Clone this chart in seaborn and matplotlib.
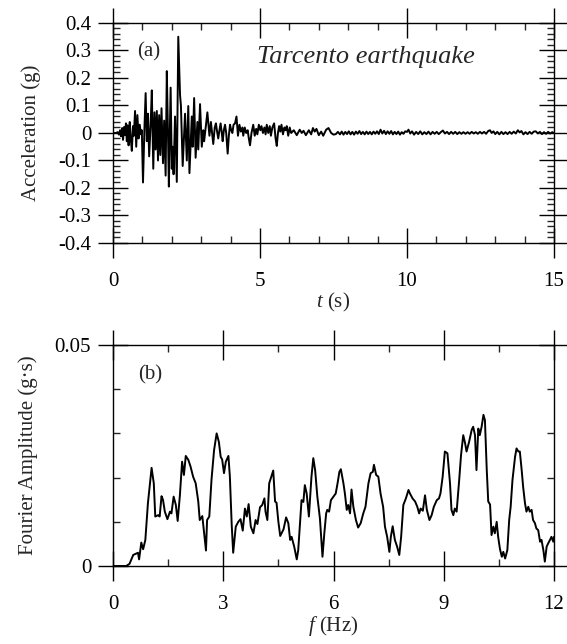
import numpy as np
import pandas as pd
import matplotlib
matplotlib.use("Agg")
import matplotlib.pyplot as plt
from matplotlib.ticker import FixedLocator, MultipleLocator
import seaborn as sns

# ---- ground motion record (time in s, acceleration in g) ----
time_s = [
    0.00, 0.10, 0.16, 0.20, 0.24, 0.27, 0.31, 0.34, 0.38, 0.41, 0.44, 0.47, 0.50, 0.53, 0.57, 0.60,
    0.64, 0.68, 0.71, 0.75, 0.79, 0.83, 0.87, 0.91, 0.95, 0.98,
    1.02, 1.07, 1.11, 1.15, 1.19, 1.23, 1.28, 1.32, 1.37, 1.41, 1.45, 1.49, 1.53, 1.57, 1.61, 1.65,
    1.70, 1.74, 1.79, 1.83, 1.87, 1.90, 1.96, 2.00, 2.03, 2.06, 2.11, 2.17, 2.22, 2.28, 2.31, 2.37,
    2.45, 2.51, 2.56, 2.60, 2.68, 2.71, 2.76, 2.81, 2.87, 2.90, 2.96, 3.02, 3.07, 3.10,
    3.21, 3.28, 3.33, 3.37, 3.41, 3.46, 3.50, 3.54, 3.58, 3.62, 3.66, 3.70, 3.73, 3.77, 3.81, 3.85,
    3.90, 3.94, 3.98, 4.02, 4.06, 4.10, 4.15, 4.20, 4.25, 4.30, 4.35, 4.40, 4.43, 4.48, 4.53, 4.58,
    4.62, 4.66, 4.71, 4.77, 4.82, 4.87, 4.91, 4.96, 5.01, 5.05, 5.10, 5.15, 5.19, 5.23, 5.28, 5.33,
    5.37, 5.42, 5.48, 5.53, 5.57, 5.61, 5.65, 5.69, 5.73, 5.78, 5.83, 5.87, 5.91, 5.96, 6.01, 6.06,
    6.15, 6.25, 6.35, 6.42, 6.48, 6.56, 6.66, 6.74, 6.80, 6.86, 6.92, 7.00, 7.08, 7.15, 7.25, 7.33,
    7.42, 7.50, 7.58,
    7.65, 7.72, 7.78, 7.84, 7.90, 7.96, 8.02, 8.08, 8.14, 8.20, 8.26, 8.32, 8.38, 8.44, 8.50, 8.56,
    8.62, 8.68, 8.74, 8.80, 8.86, 8.92, 8.98, 9.04, 9.10, 9.16, 9.22, 9.28, 9.34, 9.40, 9.46, 9.52,
    9.58, 9.64, 9.70,
    9.76, 9.82, 9.88, 9.94, 10.00, 10.05, 10.11, 10.17, 10.24, 10.31, 10.38, 10.45, 10.52, 10.59,
    10.66, 10.73, 10.80, 10.87, 10.94, 11.01, 11.08, 11.15, 11.22, 11.29, 11.36, 11.43, 11.50, 11.57,
    11.64, 11.71, 11.78, 11.85, 11.92, 11.99, 12.06, 12.13, 12.20, 12.27, 12.34, 12.41, 12.48, 12.55,
    12.62, 12.69, 12.76, 12.82, 12.88, 12.94, 13.00, 13.07, 13.14, 13.21, 13.28, 13.35, 13.42, 13.49,
    13.56, 13.63, 13.70, 13.77, 13.83, 13.89, 13.96, 14.03, 14.10, 14.17, 14.24, 14.31, 14.38, 14.45,
    14.52, 14.59, 14.66, 14.73, 14.80, 14.87, 14.94, 15.00,
]
accel_g = [
    0.0, 0.0, 0.003, -0.006, 0.010, -0.012, 0.018, -0.025, 0.022, -0.008, 0.035, -0.030, 0.028, -0.045, 0.040, -0.015,
    -0.065, 0.025, -0.010, 0.080, -0.050, 0.065, -0.020, 0.030, -0.005, 0.010,
    -0.180, 0.020, 0.145, -0.030, 0.070, -0.085, 0.030, 0.155, -0.130, 0.075, -0.060, 0.080, -0.100, 0.065, -0.080, 0.090,
    -0.110, 0.045, -0.155, 0.225, 0.000, -0.195, 0.165, -0.130, -0.050, -0.150, 0.060, -0.178, 0.350, 0.138, 0.100, -0.120,
    0.070, -0.100, 0.098, -0.146, 0.060, -0.050, 0.127, -0.090, 0.040, -0.060, 0.105, -0.050, 0.010, -0.030,
    0.075, -0.010, 0.040, 0.000, -0.040, 0.020, 0.035, 0.005, -0.020, 0.010, 0.035, 0.000, -0.030, 0.010, 0.030, 0.000,
    -0.075, -0.010, 0.030, 0.010, 0.000, 0.030, 0.035, 0.060, -0.010, 0.030, 0.005, 0.020, -0.010, 0.020, 0.000, 0.010,
    -0.020, -0.045, 0.000, 0.030, -0.010, 0.015, -0.005, 0.030, 0.010, 0.025, 0.000, 0.020, -0.005, 0.030, 0.000, 0.025,
    -0.010, 0.020, 0.035, -0.020, -0.047, 0.000, 0.025, 0.005, 0.030, -0.005, 0.020, 0.010, 0.025, -0.010, 0.020, 0.000,
    0.010, -0.008, 0.012, 0.000, 0.008, -0.008, 0.010, -0.005, 0.018, 0.005, 0.015, -0.008, 0.005, -0.010, 0.012, 0.018,
    0.000, -0.006, -0.004,
    0.004, -0.005, 0.005, -0.006, 0.004, -0.004, 0.006, -0.005, 0.004, -0.006, 0.005, -0.003, 0.007, -0.004, 0.004, -0.005,
    0.005, -0.004, 0.004, -0.005, 0.005, -0.003, 0.006, -0.004, 0.012, -0.002, 0.008, -0.004, 0.006, -0.003, 0.007, -0.005,
    0.004, -0.004, 0.005,
    -0.006, 0.003, -0.003, 0.006, 0.004, 0.012, -0.002, 0.006, -0.006, 0.004, -0.004, 0.006, -0.005, 0.003,
    -0.004, 0.005, -0.005, 0.004, -0.003, 0.004, -0.004, 0.003, 0.009, -0.002, 0.004, -0.004, 0.004, -0.003,
    0.004, -0.004, 0.003, -0.003, 0.003, -0.003, 0.003, -0.003, 0.004, -0.002, 0.003, -0.003, 0.004, -0.002,
    0.004, -0.003, 0.007, 0.010, 0.000, 0.006, -0.004, 0.004, -0.005, 0.004, -0.004, 0.003, -0.004, 0.004,
    -0.003, 0.005, -0.002, 0.010, 0.002, 0.007, -0.005, 0.003, -0.004, 0.004, -0.003, 0.005, 0.006, -0.002,
    0.004, -0.004, 0.003, -0.003, 0.004, -0.002, 0.003, 0.000,
]

# ---- Fourier amplitude spectrum (frequency in Hz, amplitude in g*s) ----
freq_hz = [
    0.00, 0.36, 0.45, 0.55, 0.68, 0.71, 0.77, 0.82, 0.88, 0.95, 1.05, 1.11, 1.15, 1.23, 1.27, 1.32,
    1.36, 1.41, 1.48, 1.55, 1.59, 1.65, 1.71, 1.76, 1.82, 1.88, 1.93, 1.98, 2.05, 2.11, 2.18, 2.25,
    2.32, 2.36, 2.43, 2.48, 2.53, 2.56, 2.62, 2.68, 2.75, 2.82, 2.88, 2.93, 2.97, 3.02, 3.07, 3.14,
    3.18, 3.23, 3.27, 3.34, 3.41, 3.47, 3.53, 3.59, 3.64, 3.69, 3.75, 3.82, 3.88, 3.93, 4.00, 4.06,
    4.12, 4.15, 4.20, 4.25, 4.32, 4.36, 4.41, 4.45, 4.50, 4.55, 4.64, 4.71, 4.77, 4.82, 4.86, 4.93,
    5.00, 5.04, 5.13, 5.18, 5.22, 5.27, 5.33, 5.40, 5.45, 5.50, 5.56, 5.63, 5.70, 5.75, 5.80, 5.83,
    5.88, 5.93, 6.00, 6.06, 6.11, 6.16, 6.20, 6.27, 6.31, 6.36, 6.40, 6.45, 6.49, 6.54, 6.61, 6.67,
    6.74, 6.81, 6.87, 6.95, 7.01, 7.07, 7.10, 7.16, 7.22, 7.28, 7.35, 7.40, 7.46, 7.52, 7.56, 7.61,
    7.67, 7.73, 7.79, 7.84, 7.90, 7.97, 8.04, 8.08, 8.15, 8.22, 8.28, 8.33, 8.37, 8.43, 8.49, 8.54,
    8.61, 8.67, 8.73, 8.81, 8.87, 8.91, 8.97, 9.03, 9.10, 9.17, 9.21, 9.26, 9.30, 9.35, 9.42, 9.47,
    9.53, 9.58, 9.62, 9.69, 9.76, 9.80, 9.85, 9.89, 9.94, 9.98, 10.03, 10.08, 10.12, 10.17, 10.21, 10.26,
    10.30, 10.35, 10.39, 10.44, 10.48, 10.53, 10.58, 10.62, 10.67, 10.73, 10.78, 10.82, 10.87, 10.94, 10.98, 11.03,
    11.07, 11.12, 11.16, 11.21, 11.25, 11.30, 11.34, 11.39, 11.43, 11.48, 11.52, 11.57, 11.62, 11.66, 11.71, 11.75,
    11.80, 11.84, 11.89, 11.93, 11.98, 12.00,
]
fourier_amp = [
    0.0000, 0.0000, 0.0005, 0.0025, 0.0030, 0.0015, 0.0053, 0.0038, 0.0059, 0.0142, 0.0222, 0.0187, 0.0112, 0.0115, 0.0112, 0.0158,
    0.0150, 0.0123, 0.0106, 0.0123, 0.0119, 0.0157, 0.0138, 0.0102, 0.0160, 0.0236, 0.0206, 0.0249, 0.0240, 0.0225, 0.0202, 0.0187,
    0.0146, 0.0104, 0.0113, 0.0074, 0.0035, 0.0104, 0.0112, 0.0195, 0.0262, 0.0300, 0.0281, 0.0247, 0.0241, 0.0210, 0.0236, 0.0249,
    0.0202, 0.0093, 0.0030, 0.0089, 0.0100, 0.0106, 0.0080, 0.0130, 0.0112, 0.0140, 0.0089, 0.0074, 0.0104, 0.0095, 0.0133, 0.0138,
    0.0153, 0.0123, 0.0104, 0.0187, 0.0206, 0.0216, 0.0146, 0.0143, 0.0100, 0.0068, 0.0083, 0.0110, 0.0097, 0.0059, 0.0066, 0.0044,
    0.0015, 0.0036, 0.0149, 0.0145, 0.0183, 0.0164, 0.0112, 0.0202, 0.0244, 0.0217, 0.0157, 0.0108, 0.0021, 0.0074, 0.0119, 0.0127,
    0.0123, 0.0149, 0.0157, 0.0164, 0.0187, 0.0213, 0.0219, 0.0187, 0.0164, 0.0127, 0.0138, 0.0119, 0.0173, 0.0134, 0.0104, 0.0087,
    0.0097, 0.0119, 0.0134, 0.0187, 0.0210, 0.0213, 0.0229, 0.0206, 0.0202, 0.0164, 0.0134, 0.0089, 0.0066, 0.0032, 0.0066, 0.0090,
    0.0059, 0.0044, 0.0025, 0.0066, 0.0138, 0.0153, 0.0172, 0.0164, 0.0153, 0.0146, 0.0134, 0.0119, 0.0130, 0.0125, 0.0160, 0.0127,
    0.0104, 0.0115, 0.0134, 0.0149, 0.0153, 0.0164, 0.0202, 0.0259, 0.0255, 0.0187, 0.0127, 0.0115, 0.0130, 0.0123, 0.0195, 0.0251,
    0.0296, 0.0278, 0.0259, 0.0281, 0.0308, 0.0315, 0.0296, 0.0217, 0.0311, 0.0296, 0.0315, 0.0342, 0.0330, 0.0217, 0.0146, 0.0139,
    0.0070, 0.0089, 0.0074, 0.0100, 0.0066, 0.0038, 0.0021, 0.0032, 0.0017, 0.0036, 0.0104, 0.0134, 0.0195, 0.0247, 0.0266, 0.0259,
    0.0259, 0.0217, 0.0179, 0.0142, 0.0123, 0.0134, 0.0123, 0.0127, 0.0104, 0.0097, 0.0085, 0.0081, 0.0055, 0.0059, 0.0036, 0.0010,
    0.0044, 0.0051, 0.0059, 0.0066, 0.0055, 0.0066,
]

acc_ticks = [-0.4, -0.3, -0.2, -0.1, 0.0, 0.1, 0.2, 0.3, 0.4]
acc_tick_labels = ["-0.4", "-0.3", "-0.2", "-0.1", "0", "0.1", "0.2", "0.3", "0.4"]
time_ticks = [0, 5, 10, 15]
freq_ticks = [0, 3, 6, 9, 12]
amp_ticks = [0.0, 0.05]
amp_tick_labels = ["0", "0.05"]

sns.set_theme(style="ticks")
plt.rcParams["font.family"] = ["Liberation Serif", "DejaVu Serif"]
plt.rcParams["mathtext.fontset"] = "custom"
plt.rcParams["mathtext.rm"] = "Liberation Serif"
plt.rcParams["mathtext.it"] = "Liberation Serif:italic"
plt.rcParams["axes.unicode_minus"] = False

FS = 15
fig = plt.figure(figsize=(5.67, 6.44), dpi=100)
ax1 = fig.add_axes([0.1993, 0.6227, 0.7778, 0.3416])
ax2 = fig.add_axes([0.1993, 0.1211, 0.7778, 0.3432])

acc_df = pd.DataFrame({"t": time_s, "a": accel_g})
fas_df = pd.DataFrame({"f": freq_hz, "A": fourier_amp})

sns.lineplot(data=acc_df, x="t", y="a", ax=ax1, color="black", lw=1.4,
             estimator=None, sort=False)
sns.lineplot(data=fas_df, x="f", y="A", ax=ax2, color="black", lw=1.4,
             estimator=None, sort=False)


def style_axis(ax):
    for sp in ax.spines.values():
        sp.set_linewidth(1.0)
        sp.set_color("black")
        sp.set_visible(True)
    ax.tick_params(which="major", direction="inout", length=21.5, width=1.0,
                   top=True, right=True, bottom=True, left=True,
                   labelsize=FS, colors="black")
    ax.tick_params(which="minor", direction="in", length=5.0, width=1.0,
                   top=True, right=True, bottom=True, left=True)
    ax.tick_params(axis="y", which="major", pad=5)
    ax.tick_params(axis="x", which="major", pad=10)


# panel (a): acceleration time history
ax1.set_xlim(0, 15)
ax1.set_ylim(-0.4, 0.4)
ax1.xaxis.set_major_locator(FixedLocator(time_ticks))
ax1.xaxis.set_minor_locator(MultipleLocator(1))
ax1.set_yticks(acc_ticks)
ax1.set_yticklabels(acc_tick_labels)
ax1.yaxis.set_minor_locator(MultipleLocator(0.02))
style_axis(ax1)
ax1.set_xlabel(r"$t$ (s)", fontsize=FS, labelpad=0)
ax1.set_ylabel("Acceleration (g)", fontsize=FS, labelpad=12)
ax1.text(1.22, 0.295, "(a)", fontsize=FS, ha="center", va="center")
ax1.text(8.6, 0.255, "Tarcento earthquake", fontsize=19, style="italic",
         ha="center", va="baseline")

# panel (b): Fourier amplitude spectrum
ax2.set_xlim(0, 12)
ax2.set_ylim(0, 0.05)
ax2.xaxis.set_major_locator(FixedLocator(freq_ticks))
ax2.xaxis.set_minor_locator(MultipleLocator(1.5))
ax2.set_yticks(amp_ticks)
ax2.set_yticklabels(amp_tick_labels)
ax2.yaxis.set_minor_locator(MultipleLocator(0.01))
style_axis(ax2)
ax2.set_xlabel(r"$f$ (Hz)", fontsize=FS, labelpad=0)
ax2.set_ylabel("Fourier Amplitude (g\u00b7s)", fontsize=FS, labelpad=12)
ax2.text(1.02, 0.0432, "(b)", fontsize=FS, ha="center", va="center")

for ax in (ax1, ax2):
    ax.set_facecolor("white")
fig.patch.set_facecolor("white")

fig.savefig("out.png", dpi=100, facecolor="white")
